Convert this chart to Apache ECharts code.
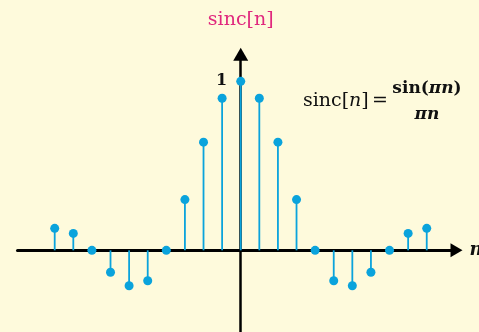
<!DOCTYPE html>
<html>
<head>
<meta charset="utf-8">
<script src="https://cdn.jsdelivr.net/npm/echarts@6/dist/echarts.min.js"></script>
<style>
  html, body { margin: 0; padding: 0; background: #fefadc; }
  #chart { width: 479px; height: 332px; }
</style>
</head>
<body>
<div id="chart"></div>
<script>
const nValues = [-10, -9, -8, -7, -6, -5, -4, -3, -2, -1, 0, 1, 2, 3, 4, 5, 6, 7, 8, 9, 10]
const sincValues = [0.13, 0.10, 0, -0.13, -0.21, -0.18, 0, 0.30, 0.64, 0.90, 1,
  0.90, 0.64, 0.30, 0, -0.18, -0.21, -0.13, 0, 0.10, 0.13]
const yTickValues = [1]

const stemColor = '#0aa3dc'
const points = nValues.map((n, i) => [n, sincValues[i]])

const chart = echarts.init(document.getElementById('chart'))

chart.setOption({
  backgroundColor: '#fefadc',
  animation: false,
  grid: { left: 17.5, width: 439, top: 54.3, height: 280.5, containLabel: false, outerBoundsMode: 'none' },
  xAxis: {
    type: 'value',
    min: -12,
    max: 11.6,
    name: 'n',
    nameLocation: 'end',
    nameGap: 13,
    nameTextStyle: { fontFamily: 'DejaVu Serif', fontStyle: 'italic', fontWeight: 'bold', fontSize: 18, color: '#111' },
    axisLine: { onZero: true, lineStyle: { color: '#000', width: 3 }, symbol: ['none', 'triangle'], symbolSize: [14, 12] },
    axisTick: { show: false },
    axisLabel: { show: false },
    splitLine: { show: false }
  },
  yAxis: {
    type: 'value',
    min: -0.5,
    max: 1.16,
    name: 'sinc[n]',
    nameLocation: 'end',
    nameGap: 25,
    nameTextStyle: { fontFamily: 'DejaVu Serif', fontSize: 19, color: '#e0287d' },
    axisLine: { onZero: true, lineStyle: { color: '#000', width: 2.5 }, symbol: ['none', 'triangle'], symbolSize: [15, 13] },
    axisTick: { show: false },
    axisLabel: { show: false },
    splitLine: { show: false }
  },
  graphic: [
    {
      type: 'text', x: 303, y: 101,
      style: {
        text: '{r|sinc[}{i|n}{r|]}',
        verticalAlign: 'middle',
        rich: {
          r: { fontFamily: 'DejaVu Serif', fontSize: 19, fill: '#111' },
          i: { fontFamily: 'DejaVu Serif', fontStyle: 'italic', fontSize: 19, fill: '#111' }
        }
      }
    },
    {
      type: 'text', x: 372, y: 101,
      style: { text: '=', fontFamily: 'DejaVu Serif', fontSize: 19, fill: '#111', verticalAlign: 'middle' }
    },
    {
      type: 'text', x: 427, y: 89,
      style: {
        text: '{b|sin(}{bi|πn}{b|)}',
        align: 'center',
        verticalAlign: 'middle',
        rich: {
          b: { fontFamily: 'DejaVu Serif', fontWeight: 'bold', fontSize: 17, fill: '#111' },
          bi: { fontFamily: 'DejaVu Serif', fontWeight: 'bold', fontStyle: 'italic', fontSize: 17, fill: '#111' }
        }
      }
    },
    {
      type: 'text', x: 427, y: 115,
      style: {
        text: 'πn', align: 'center', verticalAlign: 'middle',
        fontFamily: 'DejaVu Serif', fontWeight: 'bold', fontStyle: 'italic', fontSize: 17, fill: '#111'
      }
    }
  ],
  series: [
    {
      // stems from zero to each sample
      type: 'custom',
      data: points,
      z: 3,
      renderItem: (params, api) => {
        const p0 = api.coord([api.value(0), 0])
        const p1 = api.coord([api.value(0), api.value(1)])
        return {
          type: 'line',
          shape: { x1: p0[0], y1: p0[1], x2: p1[0], y2: p1[1] },
          style: { stroke: stemColor, lineWidth: 1.8 }
        }
      }
    },
    {
      type: 'scatter',
      data: points,
      z: 4,
      symbol: 'circle',
      symbolSize: 9,
      itemStyle: { color: stemColor, opacity: 1 }
    },
    {
      // tick label "1" sitting beside the vertical axis
      type: 'scatter',
      data: yTickValues.map(v => [0, v]),
      z: 5,
      symbolSize: 1,
      silent: true,
      itemStyle: { opacity: 0 },
      label: {
        show: true,
        position: 'left',
        distance: 13,
        formatter: p => String(p.value[1]),
        fontFamily: 'DejaVu Serif',
        fontWeight: 'bold',
        fontSize: 16,
        color: '#111',
        opacity: 1
      }
    }
  ]
})
</script>
</body>
</html>
